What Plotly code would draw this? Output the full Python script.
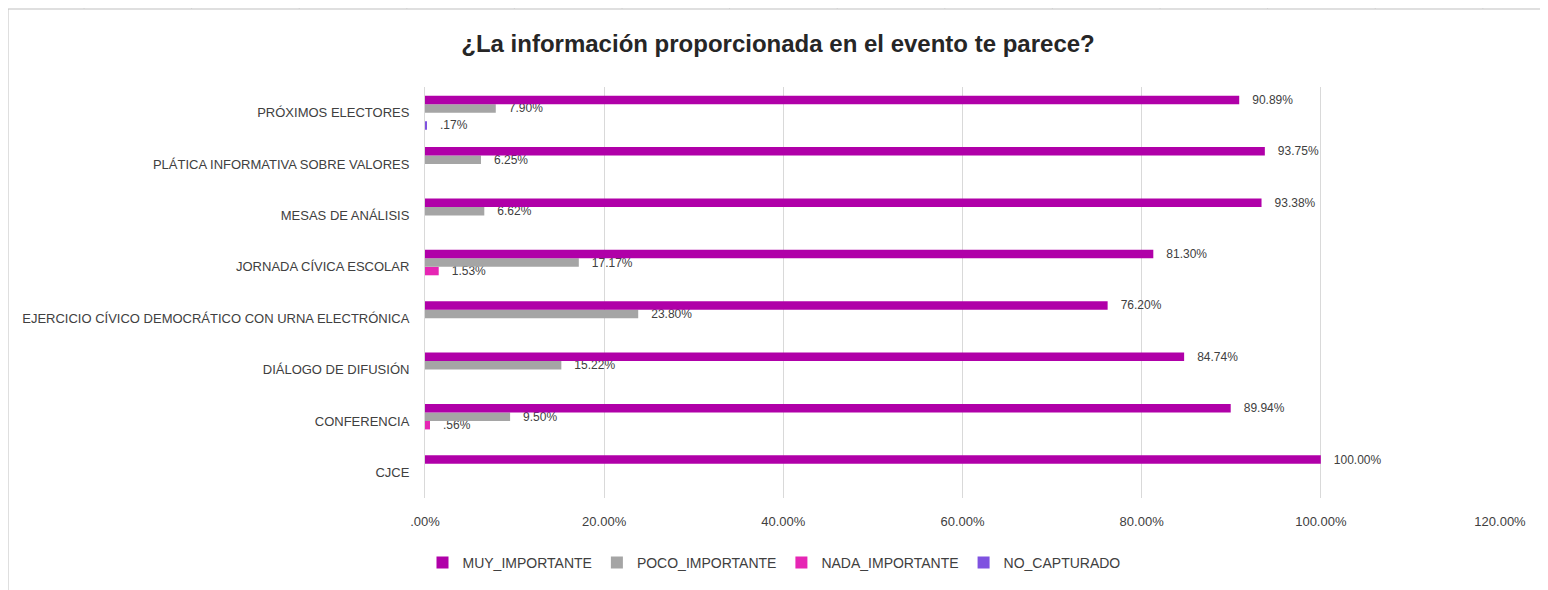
import plotly.graph_objects as go

# categories, bottom to top (as drawn by plotly's category axis)
eventos = [
    "CJCE",
    "CONFERENCIA",
    "DIÁLOGO DE DIFUSIÓN",
    "EJERCICIO CÍVICO DEMOCRÁTICO CON URNA ELECTRÓNICA",
    "JORNADA CÍVICA ESCOLAR",
    "MESAS DE ANÁLISIS",
    "PLÁTICA INFORMATIVA SOBRE VALORES",
    "PRÓXIMOS ELECTORES",
]

muy_importante = [100.00, 89.94, 84.74, 76.20, 81.30, 93.38, 93.75, 90.89]
poco_importante = [None, 9.50, 15.22, 23.80, 17.17, 6.62, 6.25, 7.90]
nada_importante = [None, 0.56, None, None, 1.53, None, None, None]
no_capturado = [None, None, None, None, None, None, None, 0.17]

tick_vals = [0, 20, 40, 60, 80, 100, 120]
tick_labels = [".00%", "20.00%", "40.00%", "60.00%", "80.00%", "100.00%", "120.00%"]


def etiqueta(v):
    if v is None:
        return ""
    s = f"{v:.2f}%"
    s = s[1:] if s.startswith("0") else s
    return "\u00a0\u00a0\u00a0" + s


series = [
    ("MUY_IMPORTANTE", muy_importante, "#B000A8"),
    ("POCO_IMPORTANTE", poco_importante, "#A5A5A5"),
    ("NADA_IMPORTANTE", nada_importante, "#E626B4"),
    ("NO_CAPTURADO", no_capturado, "#7F52E0"),
]

FAM = "Liberation Sans, Arial, sans-serif"
etiquetas_font = dict(family=FAM, size=12, color="#404040")
ejes_font = dict(family=FAM, size=13, color="#404040")

fig = go.Figure()
# added in reverse so MUY_IMPORTANTE sits on top of each group
for nombre, valores, color in reversed(series):
    fig.add_trace(go.Bar(
        name=nombre,
        y=eventos,
        x=valores,
        orientation="h",
        marker=dict(color=color, line=dict(width=0)),
        text=[etiqueta(v) for v in valores],
        textposition="outside",
        textfont=etiquetas_font,
        constraintext="none",
        cliponaxis=False,
    ))

# the page body adds an 8px offset, so the figure is 8px smaller each way
fig.update_layout(
    width=1540,
    height=582,
    barmode="group",
    bargap=0.34,
    bargroupgap=0,
    paper_bgcolor="white",
    plot_bgcolor="white",
    margin=dict(l=417, r=48, t=79, b=92, autoexpand=False),
    title=dict(
        text="<b>¿La información proporcionada en el evento te parece?</b>",
        x=770 / 1540,
        xanchor="center",
        y=1 - 36 / 582,
        yanchor="middle",
        font=dict(family=FAM, size=24, color="#262626"),
    ),
    xaxis=dict(
        range=[0, 120],
        tickvals=tick_vals,
        ticktext=tick_labels,
        showgrid=True,
        gridcolor="#D9D9D9",
        gridwidth=1,
        zeroline=False,
        showline=False,
        tickfont=ejes_font,
        ticks="",
        ticklabelstandoff=14,
        automargin=False,
    ),
    yaxis=dict(
        type="category",
        showline=True,
        linecolor="#D9D9D9",
        linewidth=1,
        showgrid=False,
        tickfont=ejes_font,
        ticks="",
        ticklabelstandoff=12,
        automargin=False,
    ),
    legend=dict(
        orientation="h",
        traceorder="reversed",
        x=(774 - 425) / 1075,
        xanchor="center",
        y=(498 - 563) / 411,
        yanchor="middle",
        font=dict(family=FAM, size=14, color="#404040"),
        itemwidth=30,
    ),
    showlegend=True,
)

# chart area border and spreadsheet cell lines (page pixel -> paper coords)
def px_x(px):
    return (px - 425) / 1075


def px_y(py):
    return (498 - py) / 411


fig.add_shape(type="rect", xref="paper", yref="paper",
              x0=px_x(8), x1=px_x(1560), y0=px_y(600), y1=px_y(9),
              line=dict(color="#BFBFBF", width=1), layer="below")
for k in range(14):
    xc = 84 + 107.6 * k
    fig.add_shape(type="line", xref="paper", yref="paper",
                  x0=px_x(xc), x1=px_x(xc), y0=px_y(0), y1=px_y(9),
                  line=dict(color="#D0D0D0", width=1))
for yc in [62, 172, 230, 262, 300, 395, 445, 478, 528, 560]:
    fig.add_shape(type="line", xref="paper", yref="paper",
                  x0=px_x(0), x1=px_x(8), y0=px_y(yc), y1=px_y(yc),
                  line=dict(color="#D0D0D0", width=1))

fig.write_html("out.html")
